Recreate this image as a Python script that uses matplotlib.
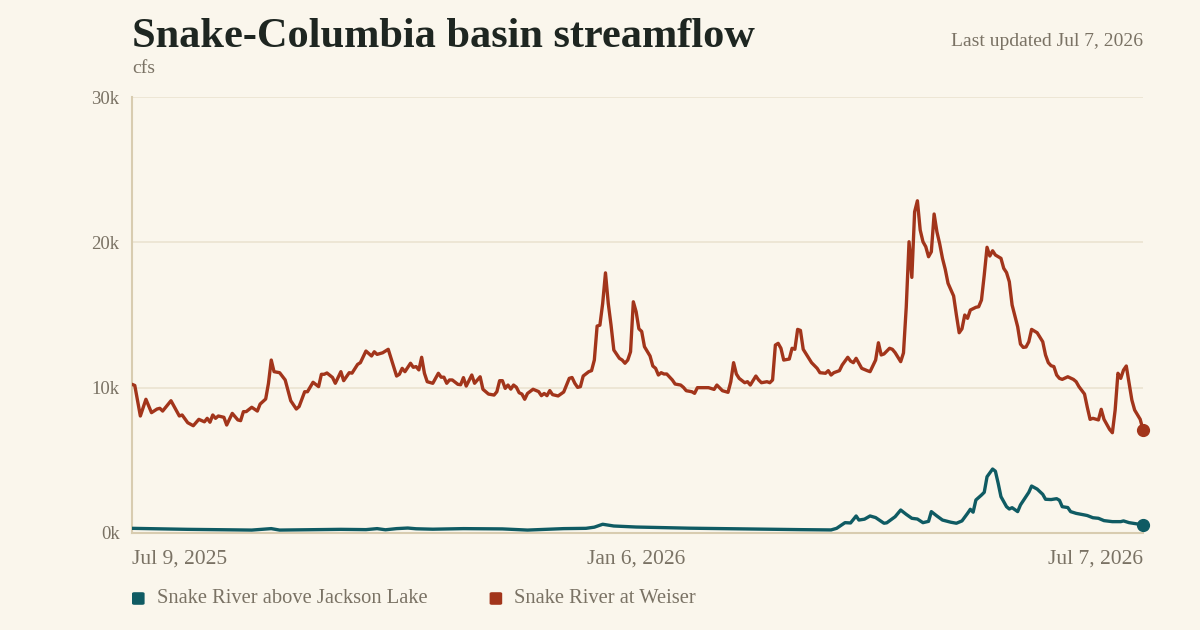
import numpy as np
import matplotlib
matplotlib.use("Agg")
import matplotlib.pyplot as plt
import matplotlib.dates as mdates
from matplotlib.patches import FancyBboxPatch
import datetime as dt

# ---------------- data ----------------
start_date = "2025-07-09"
end_date = "2026-07-07"

# Snake River at Weiser (cfs): day offset from start, value
weiser_days = [0, 1, 3, 5, 7, 9, 10, 11, 14, 17, 18, 20, 22, 24, 26, 27, 28, 29, 30, 31, 33, 34, 36, 38, 39, 40, 41, 43, 45, 46, 48,
               49, 50, 51, 53, 55, 57, 59, 60, 62, 63, 65, 67, 68, 69, 70, 72, 73, 75, 76, 78, 79, 81, 82, 84, 86, 87, 88, 90,
               92, 93, 95, 96, 97, 98, 100, 101, 102, 103, 104, 105, 106, 108, 109, 110, 111, 112, 113, 114, 115, 117, 118,
               119, 120, 122, 123, 125, 126, 128, 130, 131, 132, 133, 134, 135, 136, 137, 138, 139, 140, 141, 142, 144, 146,
               147, 148, 149, 150, 151, 153, 155, 157, 158, 159, 160, 161, 162, 164, 165, 166, 167, 168, 169, 170, 171, 172,
               173, 175, 176, 177, 178, 179, 180, 181, 182, 183, 184, 186, 187, 188, 189, 190, 191, 192, 194, 195, 197, 198,
               199, 201, 202, 203, 205, 207, 209, 210, 212, 214, 215, 216, 217, 218, 220, 221, 222, 224, 225, 226, 228, 229,
               230, 231, 232, 233, 234, 236, 237, 238, 239, 240, 241, 243, 244, 246, 247, 249, 250, 251, 252, 254, 255, 257,
               258, 259, 260, 262, 264, 265, 267, 268, 269, 270, 272, 273, 274, 276, 277, 278, 279, 280, 281, 282, 283, 284,
               285, 286, 287, 288, 289, 290, 291, 292, 293, 295, 296, 297, 298, 299, 300, 301, 303, 304, 305, 306, 307, 308,
               309, 310, 312, 313, 314, 315, 316, 318, 319, 320, 321, 322, 323, 325, 327, 328, 329, 330, 331, 332, 333, 334,
               336, 338, 339, 340, 342, 343, 344, 345, 347, 348, 349, 351, 352, 353, 354, 355, 356, 357, 358, 359, 360, 362, 363]
weiser_cfs = [10230, 10150, 8050, 9200, 8280, 8530, 8580, 8390, 9100, 8050, 8120, 7590, 7380, 7820, 7650, 7890, 7620, 8120, 7890,
              8050, 7960, 7430, 8230, 7780, 7730, 8350, 8350, 8650, 8390, 8870, 9220,
              10300, 11900, 11100, 11030, 10530, 9100, 8530, 8700, 9720, 9720, 10370, 10070, 10920, 10920, 11010, 10700, 10300,
              11100, 10480, 11030, 11000, 11600, 11720, 12520, 12180, 12470, 12290, 12400,
              12640, 12020, 10800, 10920, 11330, 11100, 11680, 11400, 11450, 11220, 12090, 10990, 10410, 10300, 10640, 10990,
              10720, 10720, 10300, 10530, 10530, 10230, 10200,
              10690, 10110, 10870, 10300, 10750, 9890, 9560, 9490, 9720, 10480, 10480, 9950, 10180, 9900, 10180, 10030, 9650,
              9560, 9200, 9600, 9890, 9730,
              9450, 9600, 9450, 9800, 9520, 9430, 9700, 10640, 10700, 10300, 10020, 10070, 10800, 11100, 11170, 11900, 14240,
              14300, 15800, 17900, 15800, 14300,
              12590, 12020, 11900, 11680, 11900, 12470, 15910, 15230, 14050, 13870, 12820, 12180, 11490, 11330, 10870, 11030,
              10940, 10940, 10530, 10250, 10180, 10020,
              9790, 9720, 9610, 10000, 10000, 10000, 9880, 10180, 9790, 9680, 10410, 11720, 10940, 10640, 10340, 10410, 10180,
              10800, 10530, 10340, 10410, 10340,
              10530, 12930, 13050, 12710, 11900, 11970, 12710, 12640, 14010, 13940, 12640, 12020, 11720, 11330, 11030, 10990,
              11170, 10870, 11030, 11170, 11560, 12090,
              11830, 11720, 12020, 11330, 11170, 11100, 11900, 13090, 12250, 12320, 12710, 12640, 12410, 11790, 12390, 15570,
              20040, 17590, 22100, 22860, 20850, 20040,
              19700, 19010, 19350, 21950, 20730, 19900, 18900, 18140, 17180, 16310, 15000, 13780, 14050, 15000, 14770, 15340,
              15530, 15570, 16030, 17750, 19660, 19060,
              19420, 19130, 18900, 18210, 17920, 17290, 15690, 14190, 13000, 12770, 12800, 13160, 14010, 13780, 13160, 12250,
              11720, 11510, 11450, 10870, 10640, 10570,
              10750, 10570, 10410, 10070, 9560, 8650, 7820, 7890, 7780, 8510, 7820, 7130, 6900, 8460, 10990, 10640, 11210,
              11490, 10300, 9150, 8460, 7820, 7100]

# Snake River above Jackson Lake (cfs)
jackson_days = [0, 20, 43, 50, 53, 75, 84, 88, 91, 95, 99, 102, 108, 119, 133, 142, 155, 163, 166, 169, 173, 181, 200, 220, 240,
                251, 253, 256, 258, 260, 261, 263, 265, 267, 270, 271, 274, 276, 278, 280, 282, 284, 286, 287, 289, 291, 294,
                296, 298, 300, 301, 302, 303, 305, 306, 307, 309, 310, 311, 312, 314, 315, 316, 318, 319, 322, 323, 325, 327,
                328, 330, 332, 333, 334, 336, 337, 339, 342, 343, 345, 347, 349, 352, 355, 356, 358, 361, 363]
jackson_cfs = [320, 250, 200, 300, 200, 250, 230, 300, 220, 300, 340, 290, 260, 300, 280, 200, 300, 320, 400, 600, 480, 410, 330,
               280, 230, 210, 320, 710, 690, 1170, 890, 950, 1170, 1060, 670, 700, 1120, 1580, 1280, 1010, 960, 710, 800, 1470,
               1170, 890, 740, 670, 830, 1350, 1630, 1430, 2270, 2610, 2800, 3870, 4400, 4250, 3420, 2500, 1810, 1650, 1740,
               1470, 1930, 2800, 3230, 3020, 2660, 2320, 2300, 2360, 2250, 1810, 1750, 1470, 1350, 1240, 1200, 1050, 1010, 850,
               780, 780, 830, 710, 620, 550]

series_names = ["Snake River above Jackson Lake", "Snake River at Weiser"]
y_ticks = [0, 10000, 20000, 30000]
y_tick_labels = ["0k", "10k", "20k", "30k"]
x_tick_dates = ["2025-07-09", "2026-01-06", "2026-07-07"]
x_tick_labels = ["Jul 9, 2025", "Jan 6, 2026", "Jul 7, 2026"]

# ---------------- style ----------------
BG = "#FAF6EC"
GRID = "#ECE5D3"
AXIS = "#D8CCB0"
TXT = "#7A7264"
TITLE = "#1E2621"
RED = "#A2351B"
TEAL = "#0F5B63"
FONT = ["Liberation Serif", "DejaVu Serif"]
plt.rcParams["font.family"] = FONT

t0 = dt.datetime.fromisoformat(start_date)
w_dates = [t0 + dt.timedelta(days=d) for d in weiser_days]
j_dates = [t0 + dt.timedelta(days=d) for d in jackson_days]

fig = plt.figure(figsize=(12, 6.3), dpi=100, facecolor=BG)
ax = fig.add_axes([0.11, 0.154, 0.8425, 0.692])
ax.set_facecolor(BG)

ax.plot(j_dates, jackson_cfs, color=TEAL, lw=2.4, solid_joinstyle="round", solid_capstyle="round", zorder=3)
ax.plot(w_dates, weiser_cfs, color=RED, lw=2.4, solid_joinstyle="round", solid_capstyle="round", zorder=3)
ax.plot([j_dates[-1]], [jackson_cfs[-1]], "o", color=TEAL, ms=8.5, zorder=4, clip_on=False)
ax.plot([w_dates[-1]], [weiser_cfs[-1]], "o", color=RED, ms=8.5, zorder=4, clip_on=False)

ax.set_xlim(t0, dt.datetime.fromisoformat(end_date))
ax.set_ylim(0, 30000)

ax.set_yticks(y_ticks)
ax.set_yticklabels(y_tick_labels, fontsize=13.5, color=TXT)
ax.yaxis.grid(True, color=GRID, lw=1.3)
ax.set_axisbelow(True)
ax.tick_params(axis="y", length=0, pad=9)

xt = [dt.datetime.fromisoformat(s) for s in x_tick_dates]
ax.set_xticks(xt)
ax.set_xticklabels(x_tick_labels, fontsize=15.5, color=TXT)
ax.tick_params(axis="x", length=0, pad=12)
lbls = ax.get_xticklabels()
lbls[0].set_ha("left")
lbls[-1].set_ha("right")

for s in ["top", "right"]:
    ax.spines[s].set_visible(False)
for s in ["left", "bottom"]:
    ax.spines[s].set_color(AXIS)
    ax.spines[s].set_linewidth(1.5)

# titles
fig.text(0.11, 0.926, "Snake-Columbia basin streamflow", fontsize=30.5, fontweight="bold", color=TITLE, ha="left", va="baseline")
fig.text(0.11, 0.884, "cfs", fontsize=14, color=TXT, ha="left", va="baseline")
fig.text(0.9525, 0.927, "Last updated Jul 7, 2026", fontsize=14, color=TXT, ha="right", va="baseline")

# legend
leg_x = [0.11, 0.408]
leg_colors = [TEAL, RED]
for lx, name, c in zip(leg_x, series_names, leg_colors):
    fig.patches.append(FancyBboxPatch((lx, 0.040), 0.0105, 0.020, boxstyle="round,pad=0,rounding_size=0.002",
                                      transform=fig.transFigure, facecolor=c, edgecolor="none"))
    fig.text(lx + 0.0205, 0.050, name, fontsize=14.8, color=TXT, ha="left", va="center")

fig.savefig("out.png", dpi=100, facecolor=BG)
